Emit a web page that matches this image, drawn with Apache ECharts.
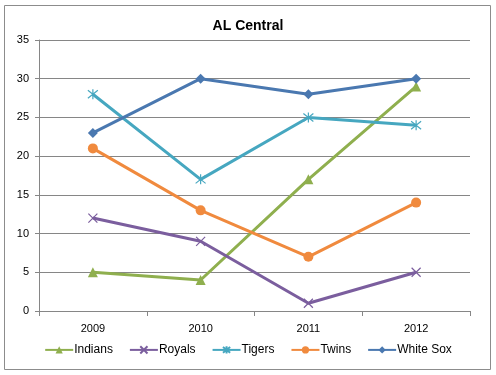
<!DOCTYPE html>
<html>
<head>
<meta charset="utf-8">
<script src="https://cdn.jsdelivr.net/npm/echarts@6/dist/echarts.min.js"></script>
<style>
  html, body { margin: 0; padding: 0; background: #fff; }
  #chart { width: 496px; height: 375px; }
</style>
</head>
<body>
<div id="chart"></div>
<script>
const years = ["2009", "2010", "2011", "2012"];
const indians = [5, 4, 17, 29];
const royals = [12, 9, 1, 5];
const tigers = [28, 17, 25, 24];
const twins = [21, 13, 7, 14];
const whiteSox = [23, 30, 28, 30];

const crossPath = "path://M0,0L10,10M10,0L0,10";
const starPath = "path://M1,1L9,9M9,1L1,9M5,0L5,10";

const font = "'Liberation Sans', Arial, sans-serif";

function line(name, data, color, symbol, size, hollow) {
  return {
    name: name,
    type: "line",
    data: data,
    symbol: symbol,
    symbolSize: size,
    lineStyle: { color: color, width: 3 },
    itemStyle: hollow
      ? { color: "none", borderColor: color, borderWidth: 1.2 }
      : { color: color },
    emphasis: { disabled: true },
  };
}

const chart = echarts.init(document.getElementById("chart"));
chart.setOption({
  animation: false,
  textStyle: { fontFamily: font },
  title: {
    text: "AL Central",
    left: "center",
    top: 14,
    textStyle: { fontSize: 14, fontWeight: "bold", color: "#000", fontFamily: font },
  },
  graphic: [
    {
      type: "rect",
      shape: { x: 4.5, y: 5.5, width: 486, height: 364 },
      style: { fill: "none", stroke: "#8c8c8c", lineWidth: 1 },
      silent: true,
    },
  ],
  legend: {
    bottom: 14,
    left: "center",
    itemGap: 16,
    itemWidth: 28,
    itemHeight: 9,
    textStyle: { fontSize: 12, color: "#000", padding: [0, 0, 0, -4] },
    data: ["Indians", "Royals", "Tigers", "Twins", "White Sox"],
  },
  grid: { left: 39, right: 26, top: 40, bottom: 64 },
  xAxis: {
    type: "category",
    data: years,
    boundaryGap: true,
    axisLine: { lineStyle: { color: "#868686" } },
    axisTick: { show: true, length: 5, lineStyle: { color: "#868686" } },
    axisLabel: { color: "#000", fontSize: 11, margin: 12 },
  },
  yAxis: {
    type: "value",
    min: 0,
    max: 35,
    interval: 5,
    axisLine: { show: true, lineStyle: { color: "#868686" } },
    axisTick: { show: true, length: 4, lineStyle: { color: "#868686" } },
    axisLabel: { color: "#000", fontSize: 11, margin: 10 },
    splitLine: { lineStyle: { color: "#868686" } },
  },
  series: [
    line("Indians", indians, "#8faf4e", "triangle", 10, false),
    line("Royals", royals, "#7b5e9e", crossPath, 9, true),
    line("Tigers", tigers, "#46a7c0", starPath, 10, true),
    line("Twins", twins, "#f08a3e", "circle", 10, false),
    line("White Sox", whiteSox, "#4a78b0", "diamond", 10, false),
  ],
});
</script>
</body>
</html>
